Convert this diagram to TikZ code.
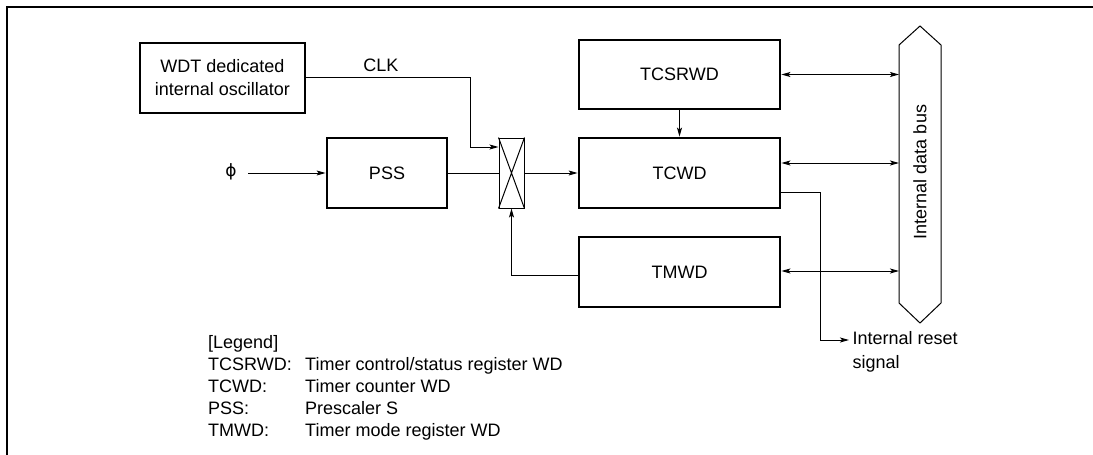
\documentclass[tikz,border=0pt]{standalone}
\usepackage{fontspec}
\setmainfont{Liberation Sans}
\newfontfamily\symfont{DejaVu Sans}
\usetikzlibrary{arrows.meta}
\begin{document}
\begin{tikzpicture}[x=1pt,y=-1pt,
  every node/.style={font=\fontsize{18}{23}\selectfont},
  reg/.style={draw,line width=2.8pt,inner sep=0pt,minimum width=201pt,minimum height=69pt},
  thin/.style={line width=1pt},
  conn/.style={thin,-{Stealth[length=9pt,width=5pt,inset=2pt]}},
  bidir/.style={thin,{Stealth[length=9pt,width=5pt,inset=2pt]}-{Stealth[length=9pt,width=5pt,inset=2pt]}}]
\useasboundingbox (0,0) rectangle (1093,455);
% frame
\draw[line width=2pt] (7,455) -- (7,7) -- (1093,7);
% blocks
\node[reg,minimum width=165pt,minimum height=70pt,align=center] (wdt) at (222.5,78) {WDT dedicated\\internal oscillator};
\node[reg,minimum width=120pt,minimum height=70pt] (pss) at (387,173) {PSS};
\node[draw,thin,inner sep=0pt,minimum width=25pt,minimum height=70pt] (mux) at (511.5,173) {};
\draw[thin] (mux.north west) -- (mux.south east) (mux.north east) -- (mux.south west);
\node[reg] (tcsr) at (679.5,74.5) {TCSRWD};
\node[reg,minimum height=70pt] (tcwd) at (679.5,173) {TCWD};
\node[reg,minimum height=70pt] (tmwd) at (679.5,272) {TMWD};
% bus
\draw[thin] (899,45) -- (920,26) -- (941,45) -- (941,303) -- (920,323) -- (899,303) -- cycle;
\node[rotate=90] (bus) at (920,172) {Internal data bus};
\coordinate (b1) at (899,74.5);
\coordinate (b2) at (899,163);
\coordinate (b3) at (899,271);
% labels
\node (clk) at (381,65) {CLK};
\node (phi) at (231,172) {\symfont\fontsize{17}{20}\selectfont ϕ};
\coordinate (phiout) at (248,173);
\node[anchor=west,align=left,font=\fontsize{18}{24}\selectfont] (rst) at (849,352) {Internal reset\\signal};
% connectors
\draw[thin] (wdt.east |- 0,77) -- (470,77) -- (470,147) coordinate (c1);
\draw[conn] (c1) -- (mux.west |- c1);
\draw[conn] (phiout) -- (pss.west);
\draw[thin] (pss.east) -- (mux.west);
\draw[conn] (mux.east) -- (tcwd.west);
\draw[conn] (tmwd.west |- 0,275) -- (mux.south |- 0,275) -- (mux.south);
\draw[conn] (tcsr.south) -- (tcwd.north);
\draw[bidir] (tcsr.east |- b1) -- (b1);
\draw[bidir] (tcwd.east |- b2) -- (b2);
\draw[bidir] (tmwd.east |- b3) -- (b3);
\draw[conn] (tcwd.east |- 0,192) -- (820,192) -- (820,340) -- (rst.west |- 0,340);
% legend
\node[anchor=north west,align=left,inner sep=0pt,font=\fontsize{18}{22}\selectfont] (legend) at (208,335) {[Legend]\\
\makebox[97pt][l]{TCSRWD:}Timer control/status register WD\\
\makebox[97pt][l]{TCWD:}Timer counter WD\\
\makebox[97pt][l]{PSS:}Prescaler S\\
\makebox[97pt][l]{TMWD:}Timer mode register WD};
\end{tikzpicture}
\end{document}
